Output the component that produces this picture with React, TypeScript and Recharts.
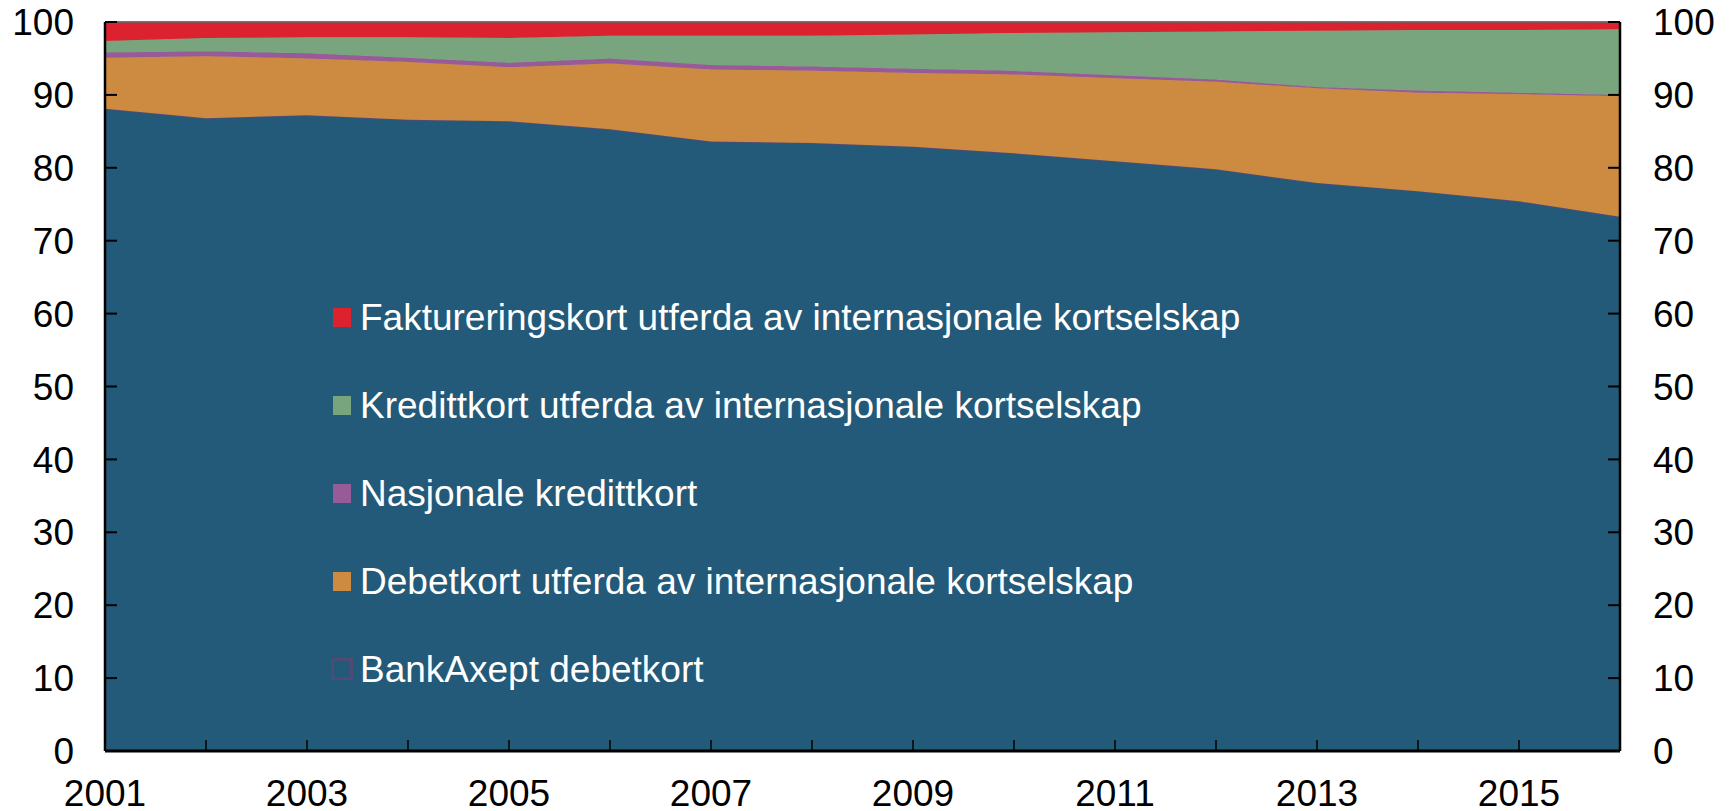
import React from "react";
import {
  AreaChart,
  Area,
  XAxis,
  YAxis,
  Legend,
  ReferenceLine,
} from "recharts";

const FONT = '"Liberation Sans", Arial, sans-serif';

const YEARS = [2001, 2002, 2003, 2004, 2005, 2006, 2007, 2008, 2009, 2010, 2011, 2012, 2013, 2014, 2015, 2016];
const BANKAXEPT = [88.1, 86.8, 87.2, 86.6, 86.4, 85.3, 83.6, 83.4, 82.9, 82.0, 80.9, 79.8, 77.9, 76.8, 75.4, 73.3];
const DEBET_INT = [7.0, 8.5, 7.8, 7.9, 7.4, 9.0, 9.9, 9.9, 10.1, 10.8, 11.4, 12.0, 13.0, 13.5, 14.7, 16.5];
const NASJ_KREDITT = [0.7, 0.7, 0.7, 0.6, 0.6, 0.7, 0.6, 0.6, 0.6, 0.5, 0.4, 0.3, 0.2, 0.3, 0.2, 0.2];
const KREDITT_INT = [1.6, 1.8, 2.2, 2.8, 3.4, 3.1, 4.0, 4.2, 4.7, 5.2, 5.9, 6.6, 7.7, 8.3, 8.6, 9.0];
const FAKTURA_INT = [2.6, 2.2, 2.1, 2.1, 2.2, 1.9, 1.9, 1.9, 1.7, 1.5, 1.4, 1.3, 1.2, 1.1, 1.1, 1.0];
const Y_TICKS = [0, 10, 20, 30, 40, 50, 60, 70, 80, 90, 100];

// bottom to top, as stacked
const SERIES = [
  { key: "bankAxept", name: "BankAxept debetkort", color: "#235a79", outline: "#4e4c74" },
  { key: "debet", name: "Debetkort utferda av internasjonale kortselskap", color: "#cd8a41" },
  { key: "nasjonale", name: "Nasjonale kredittkort", color: "#975b97" },
  { key: "kreditt", name: "Kredittkort utferda av internasjonale kortselskap", color: "#78a57e" },
  { key: "faktura", name: "Faktureringskort utferda av internasjonale kortselskap", color: "#dc222e" },
];

const data = YEARS.map((y, i) => ({
  year: y,
  bankAxept: BANKAXEPT[i],
  debet: DEBET_INT[i],
  nasjonale: NASJ_KREDITT[i],
  kreditt: KREDITT_INT[i],
  faktura: FAKTURA_INT[i],
}));

const tickStyle = { fontFamily: FONT, fontSize: 37, fill: "#000" };

function renderLegend() {
  return (
    <div style={{ fontFamily: FONT, fontSize: 37, color: "#fff" }}>
      {[...SERIES].reverse().map((s) => (
        <div key={s.key} style={{ display: "flex", alignItems: "center", height: 88 }}>
          <span
            style={{
              display: "inline-block",
              width: s.outline ? 22 : 18,
              height: s.outline ? 22 : 19,
              marginLeft: s.outline ? -2 : 0,
              marginRight: s.outline ? 7 : 9,
              background: s.color,
              border: s.outline ? `3px solid ${s.outline}` : "none",
              boxSizing: "border-box",
            }}
          />
          <span style={{ lineHeight: 1 }}>{s.name}</span>
        </div>
      ))}
    </div>
  );
}

export default function App() {
  return (
    <div style={{ position: "absolute", left: 0, top: 0, background: "#fff" }}>
      <AreaChart
        width={1731}
        height={811}
        data={data}
        margin={{ top: 22, right: 0, bottom: 0, left: 0 }}
      >
        <XAxis
          dataKey="year"
          height={60}
          interval={0}
          tickFormatter={(v: number) => (v % 2 === 1 ? String(v) : "")}
          tick={tickStyle}
          tickSize={-11}
          tickMargin={40}
          axisLine={{ stroke: "#000", strokeWidth: 3 }}
          tickLine={{ stroke: "#000", strokeWidth: 1.5 }}
        />
        <YAxis
          yAxisId="l"
          orientation="left"
          width={105}
          domain={[0, 100]}
          ticks={Y_TICKS}
          interval={0}
          tick={tickStyle}
          tickSize={-12}
          tickMargin={43}
          axisLine={{ stroke: "#000", strokeWidth: 2.5 }}
          tickLine={{ stroke: "#000", strokeWidth: 2 }}
        />
        <YAxis
          yAxisId="r"
          orientation="right"
          width={111}
          domain={[0, 100]}
          ticks={Y_TICKS}
          interval={0}
          allowDataOverflow
          tick={tickStyle}
          tickSize={-12}
          tickMargin={45}
          axisLine={{ stroke: "#000", strokeWidth: 2.5 }}
          tickLine={{ stroke: "#000", strokeWidth: 2 }}
        />
        {SERIES.map((s) => (
          <Area
            key={s.key}
            yAxisId="l"
            type="linear"
            dataKey={s.key}
            name={s.name}
            stackId="1"
            fill={s.color}
            fillOpacity={1}
            stroke={s.outline ?? s.color}
            strokeWidth={s.outline ? 2 : 1}
            dot={false}
            activeDot={false}
            isAnimationActive={false}
          />
        ))}
        {/* invisible series so the right-hand axis gets its ticks */}
        <Area
          yAxisId="r"
          type="linear"
          dataKey="bankAxept"
          fill="none"
          stroke="none"
          dot={false}
          activeDot={false}
          legendType="none"
          isAnimationActive={false}
        />
        <ReferenceLine yAxisId="l" y={100} stroke="#666" strokeWidth={1.5} />
        <Legend
          layout="vertical"
          align="center"
          verticalAlign="middle"
          content={renderLegend}
          wrapperStyle={{ left: 333, top: 273, width: "auto", height: "auto" }}
        />
      </AreaChart>
    </div>
  );
}
